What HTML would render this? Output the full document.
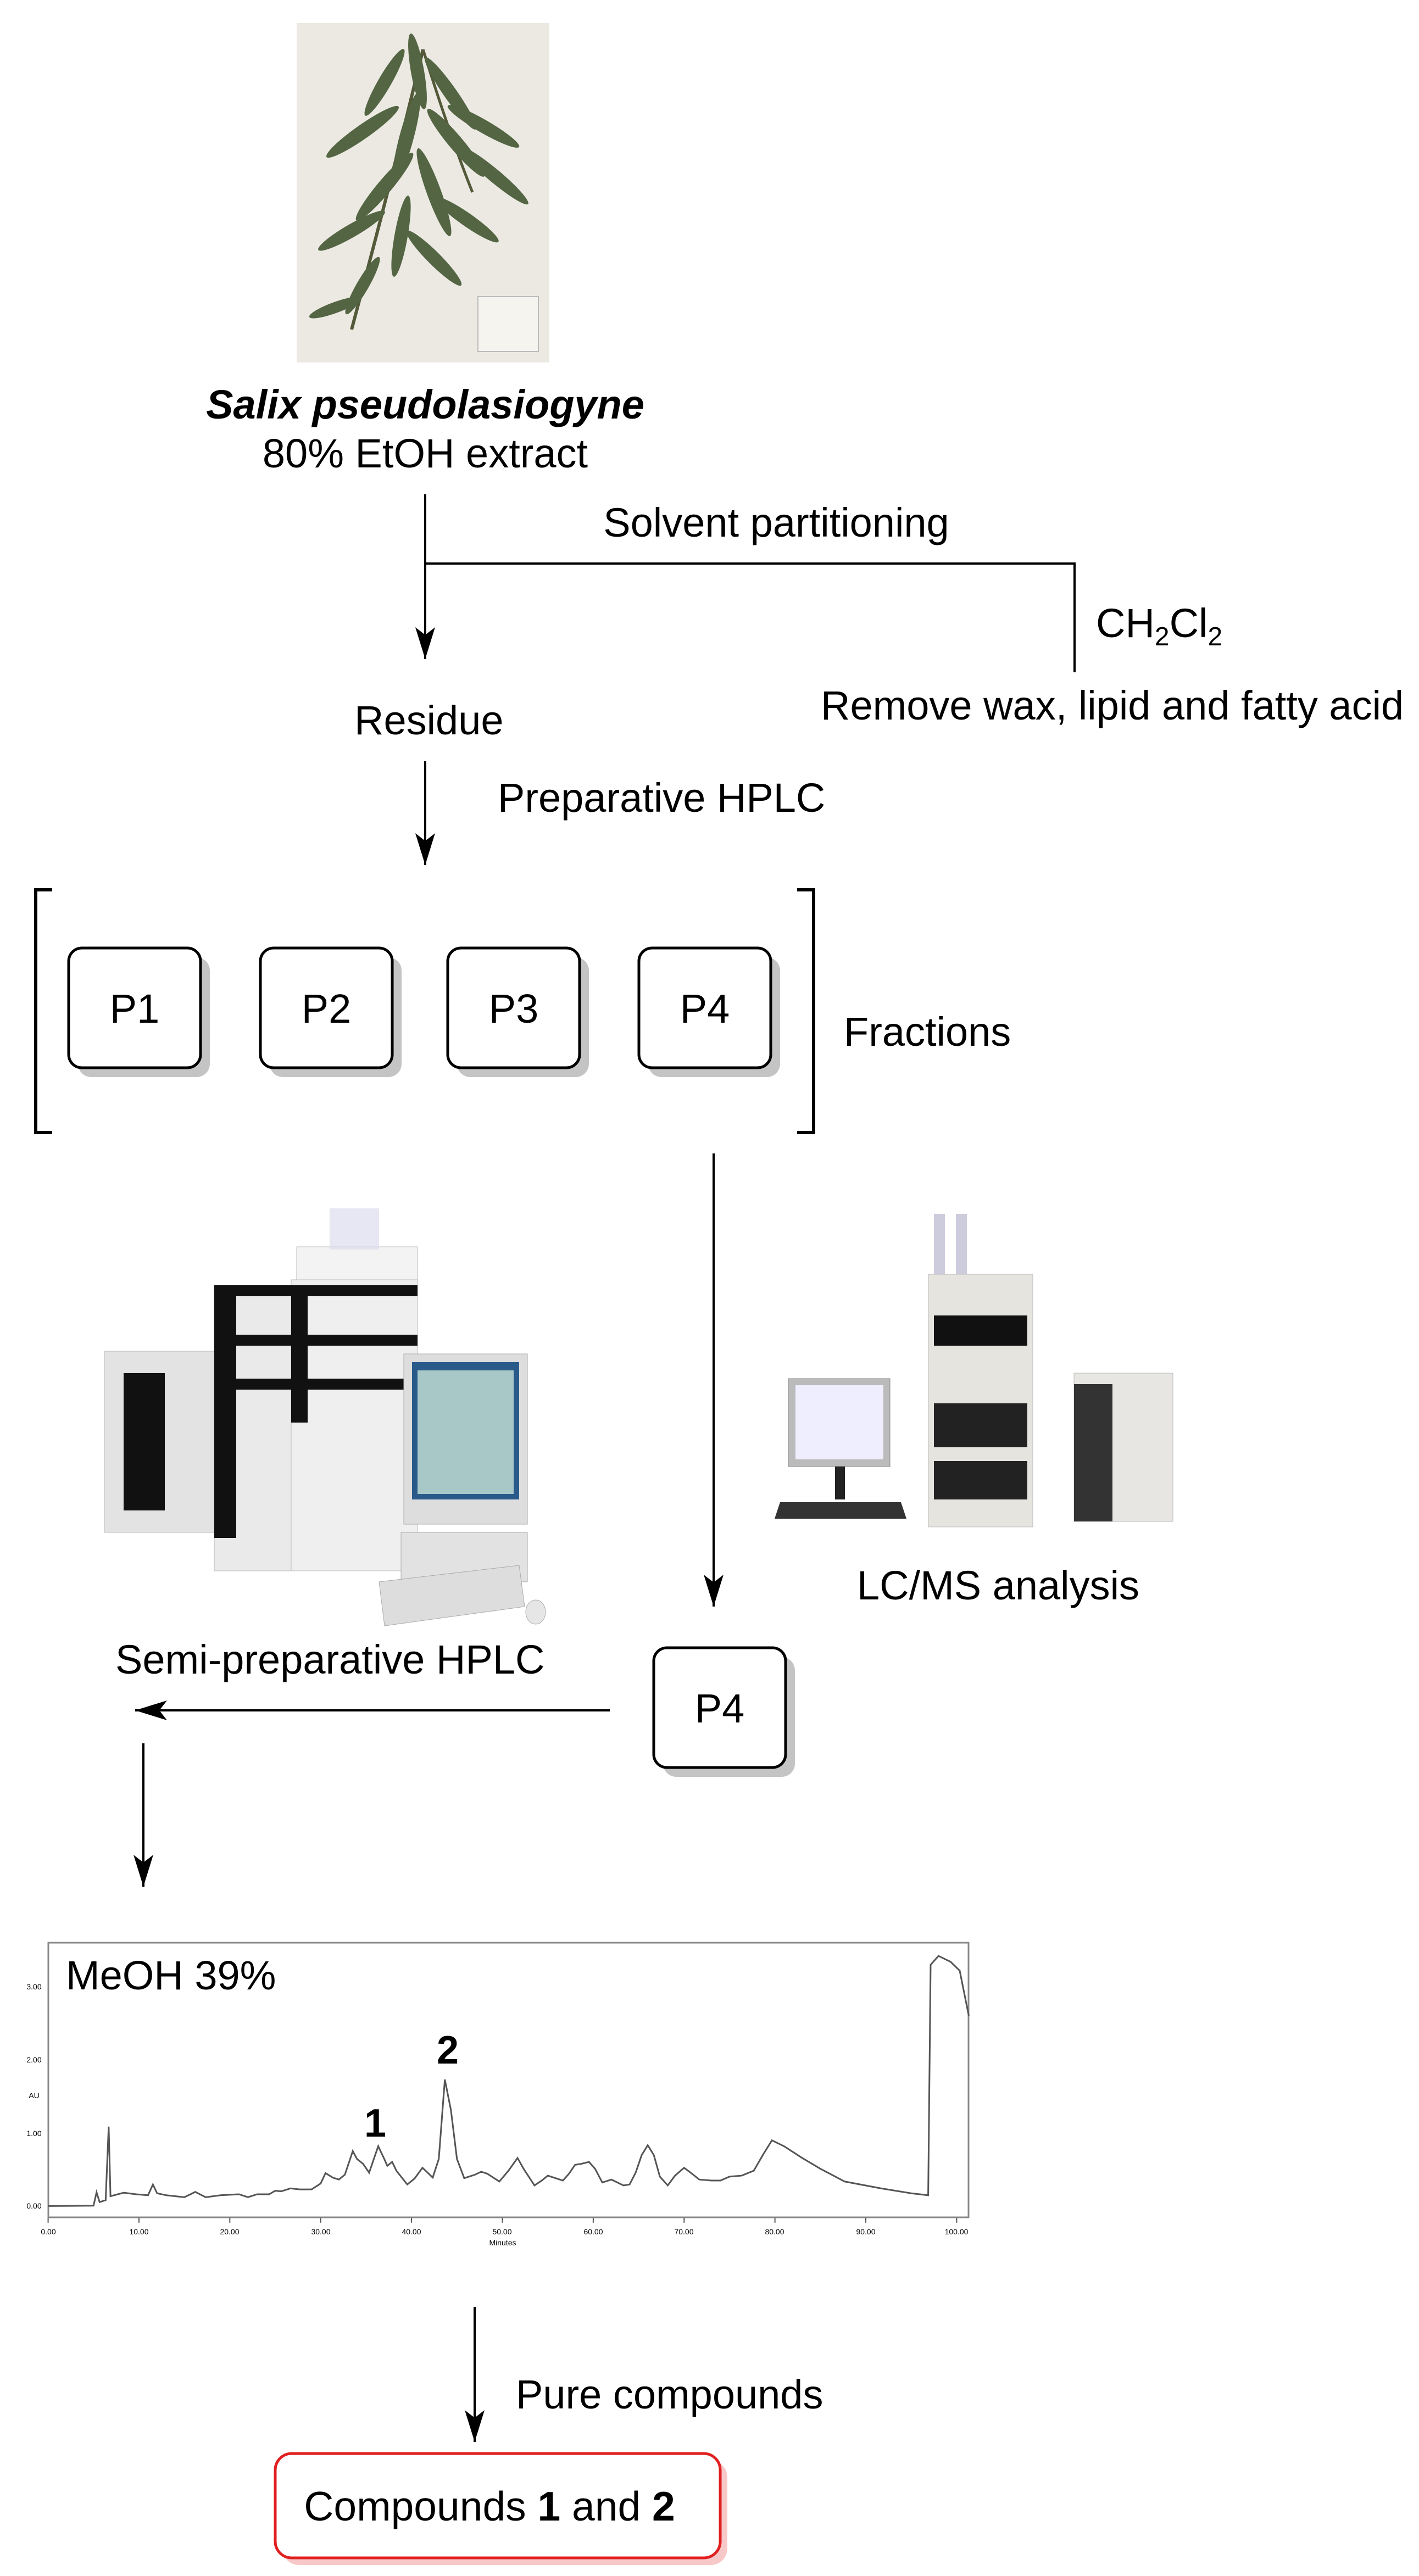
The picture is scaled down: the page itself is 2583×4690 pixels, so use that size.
<!DOCTYPE html>
<html><head><meta charset="utf-8"><style>
html,body{margin:0;padding:0;background:#fff}
svg{display:block}
text{font-family:"Liberation Sans",Arial,sans-serif;fill:#000}
</style></head><body>
<svg width="2583" height="4690" viewBox="0 0 2583 4690" xmlns="http://www.w3.org/2000/svg">
<defs>
<marker id="ah" markerWidth="60" markerHeight="40" refX="58" refY="20" orient="auto" markerUnits="userSpaceOnUse">
<path d="M0,2 L58,20 L0,38 L14,20 Z" fill="#000"/>
</marker>
</defs>
<!-- plant herbarium -->
<rect x="540" y="42" width="460" height="618" fill="#ece9e3"/>
<g fill="#4b5e3a" opacity="0.95">
<path d="M770,90 Q720,300 640,600" stroke="#4b5230" stroke-width="6" fill="none"/>
<path d="M770,90 Q820,250 860,350" stroke="#4b5230" stroke-width="5" fill="none"/>
<ellipse cx="700" cy="150" rx="12" ry="70" transform="rotate(30 700 150)"/>
<ellipse cx="760" cy="130" rx="12" ry="70" transform="rotate(-10 760 130)"/>
<ellipse cx="820" cy="170" rx="12" ry="80" transform="rotate(-35 820 170)"/>
<ellipse cx="660" cy="240" rx="13" ry="80" transform="rotate(55 660 240)"/>
<ellipse cx="740" cy="250" rx="13" ry="85" transform="rotate(15 740 250)"/>
<ellipse cx="830" cy="260" rx="13" ry="80" transform="rotate(-40 830 260)"/>
<ellipse cx="880" cy="230" rx="12" ry="75" transform="rotate(-60 880 230)"/>
<ellipse cx="900" cy="320" rx="12" ry="80" transform="rotate(-50 900 320)"/>
<ellipse cx="700" cy="340" rx="13" ry="80" transform="rotate(40 700 340)"/>
<ellipse cx="790" cy="350" rx="13" ry="85" transform="rotate(-20 790 350)"/>
<ellipse cx="850" cy="400" rx="12" ry="70" transform="rotate(-55 850 400)"/>
<ellipse cx="640" cy="420" rx="12" ry="70" transform="rotate(60 640 420)"/>
<ellipse cx="730" cy="430" rx="12" ry="75" transform="rotate(10 730 430)"/>
<ellipse cx="790" cy="470" rx="12" ry="70" transform="rotate(-45 790 470)"/>
<ellipse cx="660" cy="520" rx="11" ry="60" transform="rotate(30 660 520)"/>
<ellipse cx="610" cy="560" rx="10" ry="50" transform="rotate(70 610 560)"/>
</g>
<rect x="870" y="540" width="110" height="100" fill="#f6f4ef" stroke="#bbb" stroke-width="2"/>

<text x="774" y="762" font-size="74" font-weight="bold" font-style="italic" text-anchor="middle">Salix pseudolasiogyne</text>
<text x="774" y="851" font-size="74" text-anchor="middle">80% EtOH extract</text>
<text x="1413" y="977" font-size="74" text-anchor="middle">Solvent partitioning</text>
<text x="1995" y="1160" font-size="74">CH<tspan font-size="48" dy="15">2</tspan><tspan dy="-15">Cl</tspan><tspan font-size="48" dy="15">2</tspan></text>
<text x="1494" y="1310" font-size="74">Remove wax, lipid and fatty acid</text>
<text x="645" y="1337" font-size="74">Residue</text>
<text x="906" y="1478" font-size="74">Preparative HPLC</text>
<text x="1536" y="1904" font-size="74">Fractions</text>

<g stroke="#000" stroke-width="4" fill="none">
<line x1="774" y1="900" x2="774" y2="1200" marker-end="url(#ah)"/>
<polyline points="774,1026 1956,1026 1956,1224"/>
<line x1="774" y1="1386" x2="774" y2="1575" marker-end="url(#ah)"/>
<polyline points="95,1620 65,1620 65,2062 95,2062" stroke-width="6"/>
<polyline points="1451,1620 1481,1620 1481,2062 1451,2062" stroke-width="6"/>
<line x1="1299" y1="2100" x2="1299" y2="2925" marker-end="url(#ah)"/>
<line x1="1110" y1="3114" x2="246" y2="3114" marker-end="url(#ah)"/>
<line x1="261" y1="3174" x2="261" y2="3435" marker-end="url(#ah)"/>
<line x1="864" y1="4200" x2="864" y2="4446" marker-end="url(#ah)"/>
</g>

<!-- fraction boxes -->
<g>
<rect x="142" y="1743" width="240" height="218" rx="24" fill="#c4c4c4"/>
<rect x="125" y="1726" width="240" height="218" rx="24" fill="#fff" stroke="#000" stroke-width="5"/>
<rect x="491" y="1743" width="240" height="218" rx="24" fill="#c4c4c4"/>
<rect x="474" y="1726" width="240" height="218" rx="24" fill="#fff" stroke="#000" stroke-width="5"/>
<rect x="832" y="1743" width="240" height="218" rx="24" fill="#c4c4c4"/>
<rect x="815" y="1726" width="240" height="218" rx="24" fill="#fff" stroke="#000" stroke-width="5"/>
<rect x="1180" y="1743" width="240" height="218" rx="24" fill="#c4c4c4"/>
<rect x="1163" y="1726" width="240" height="218" rx="24" fill="#fff" stroke="#000" stroke-width="5"/>
<text x="245" y="1862" font-size="74" text-anchor="middle">P1</text>
<text x="594" y="1862" font-size="74" text-anchor="middle">P2</text>
<text x="935" y="1862" font-size="74" text-anchor="middle">P3</text>
<text x="1283" y="1862" font-size="74" text-anchor="middle">P4</text>
<rect x="1207" y="3017" width="240" height="218" rx="24" fill="#c4c4c4"/>
<rect x="1190" y="3000" width="240" height="218" rx="24" fill="#fff" stroke="#000" stroke-width="5"/>
<text x="1310" y="3136" font-size="74" text-anchor="middle">P4</text>
</g>

<!-- left HPLC instrument -->
<g>
<rect x="190" y="2460" width="200" height="330" fill="#e3e3e3" stroke="#bbb"/>
<rect x="225" y="2500" width="75" height="250" fill="#111"/>
<rect x="390" y="2340" width="180" height="520" fill="#eaeaea" stroke="#bbb"/>
<rect x="530" y="2330" width="230" height="530" fill="#efefef" stroke="#bbb"/>
<rect x="390" y="2340" width="40" height="460" fill="#111"/>
<rect x="390" y="2340" width="370" height="20" fill="#111"/>
<rect x="390" y="2430" width="370" height="20" fill="#111"/>
<rect x="390" y="2510" width="370" height="20" fill="#111"/>
<rect x="530" y="2340" width="30" height="250" fill="#111"/>
<rect x="540" y="2270" width="220" height="60" fill="#f3f3f3" stroke="#bbb"/>
<rect x="600" y="2200" width="90" height="75" fill="#dde" opacity="0.7"/>
<rect x="735" y="2465" width="225" height="310" fill="#ddd" stroke="#aaa"/>
<rect x="750" y="2480" width="195" height="250" fill="#2a5a8a"/>
<rect x="760" y="2495" width="175" height="225" fill="#a8c8c8"/>
<rect x="730" y="2790" width="230" height="90" fill="#e2e2e2" stroke="#aaa"/>
<path d="M690,2880 L945,2850 L955,2925 L700,2960 Z" fill="#ddd" stroke="#aaa"/>
<ellipse cx="975" cy="2935" rx="18" ry="22" fill="#e6e6e6" stroke="#aaa"/>
</g>
<!-- right LC/MS instrument -->
<g>
<rect x="1700" y="2210" width="20" height="110" fill="#ccd"/>
<rect x="1740" y="2210" width="20" height="110" fill="#ccd"/>
<rect x="1690" y="2320" width="190" height="460" fill="#e6e4df" stroke="#bbb"/>
<rect x="1700" y="2395" width="170" height="55" fill="#111"/>
<rect x="1700" y="2555" width="170" height="80" fill="#222"/>
<rect x="1700" y="2660" width="170" height="70" fill="#222"/>
<rect x="1955" y="2500" width="180" height="270" fill="#e8e6e2" stroke="#bbb"/>
<rect x="1955" y="2520" width="70" height="250" fill="#333"/>
<rect x="1435" y="2510" width="185" height="160" fill="#bbb" stroke="#888"/>
<rect x="1448" y="2522" width="160" height="135" fill="#eef"/>
<rect x="1520" y="2670" width="18" height="60" fill="#222"/>
<path d="M1420,2735 L1640,2735 L1650,2765 L1410,2765 Z" fill="#333"/>
</g>
<text x="1560" y="2912" font-size="74">LC/MS analysis</text>
<text x="210" y="3047" font-size="74">Semi-preparative HPLC</text>

<!-- chromatogram -->
<rect x="88" y="3537" width="1675" height="500" fill="none" stroke="#888" stroke-width="3"/>
<svg x="60" y="3520" width="1720" height="560" viewBox="0 0 1560 1568" preserveAspectRatio="none" overflow="visible">
<polyline fill="none" stroke="#555" stroke-width="3" vector-effect="non-scaling-stroke" points="25,1390 100,1388 105,1320 110,1370 120,1360 125,985 128,1340 140,1330 150,1322 170,1330 190,1335 198,1280 205,1325 220,1335 250,1345 268,1318 285,1345 310,1335 340,1330 355,1345 370,1330 390,1330 400,1312 410,1315 425,1300 440,1305 460,1305 475,1275 483,1222 495,1245 505,1255 515,1230 528,1110 535,1150 545,1175 555,1220 570,1085 580,1150 585,1185 593,1165 600,1210 618,1280 630,1250 643,1195 650,1215 660,1245 670,1150 680,745 690,900 700,1150 712,1248 730,1230 740,1215 750,1225 770,1265 785,1210 800,1145 810,1200 828,1285 840,1260 850,1235 860,1245 875,1260 885,1225 895,1180 905,1175 918,1165 928,1200 940,1270 955,1255 975,1285 985,1280 995,1220 1005,1130 1015,1080 1025,1130 1035,1240 1048,1285 1060,1235 1075,1195 1088,1225 1100,1255 1120,1260 1135,1260 1150,1240 1170,1235 1190,1210 1205,1130 1220,1055 1240,1085 1270,1145 1300,1200 1340,1265 1400,1300 1450,1325 1478,1335 1482,160 1495,115 1505,130 1515,145 1530,190 1545,420"/>
<g stroke="#555" stroke-width="2">
<line x1="25" y1="1450" x2="25" y2="1475" vector-effect="non-scaling-stroke"/>
<line x1="175" y1="1450" x2="175" y2="1475" vector-effect="non-scaling-stroke"/>
<line x1="325" y1="1450" x2="325" y2="1475" vector-effect="non-scaling-stroke"/>
<line x1="475" y1="1450" x2="475" y2="1475" vector-effect="non-scaling-stroke"/>
<line x1="625" y1="1450" x2="625" y2="1475" vector-effect="non-scaling-stroke"/>
<line x1="775" y1="1450" x2="775" y2="1475" vector-effect="non-scaling-stroke"/>
<line x1="925" y1="1450" x2="925" y2="1475" vector-effect="non-scaling-stroke"/>
<line x1="1075" y1="1450" x2="1075" y2="1475" vector-effect="non-scaling-stroke"/>
<line x1="1225" y1="1450" x2="1225" y2="1475" vector-effect="non-scaling-stroke"/>
<line x1="1375" y1="1450" x2="1375" y2="1475" vector-effect="non-scaling-stroke"/>
<line x1="1525" y1="1450" x2="1525" y2="1475" vector-effect="non-scaling-stroke"/>
</g>
</svg>
<g font-size="14" text-anchor="middle">
<text x="88" y="4068" fill="#555">0.00</text><text x="253" y="4068" fill="#555">10.00</text><text x="418" y="4068" fill="#555">20.00</text><text x="584" y="4068" fill="#555">30.00</text><text x="749" y="4068" fill="#555">40.00</text><text x="914" y="4068" fill="#555">50.00</text><text x="1080" y="4068" fill="#555">60.00</text><text x="1245" y="4068" fill="#555">70.00</text><text x="1410" y="4068" fill="#555">80.00</text><text x="1576" y="4068" fill="#555">90.00</text><text x="1741" y="4068" fill="#555">100.00</text>
<text x="915" y="4088" fill="#555">Minutes</text>
<text x="62" y="3622" fill="#555">3.00</text><text x="62" y="3755" fill="#555">2.00</text><text x="62" y="3889" fill="#555">1.00</text><text x="62" y="4021" fill="#555">0.00</text>
<text x="62" y="3820" fill="#555">AU</text>
</g>
<text x="120" y="3622" font-size="74">MeOH 39%</text>
<text x="815" y="3757" font-size="72" font-weight="bold" text-anchor="middle">2</text>
<text x="683" y="3890" font-size="72" font-weight="bold" text-anchor="middle">1</text>

<text x="939" y="4385" font-size="74">Pure compounds</text>
<rect x="514" y="4480" width="810" height="190" rx="30" fill="#f7c8c8"/>
<rect x="501" y="4467" width="810" height="190" rx="30" fill="#fff" stroke="#e02020" stroke-width="5"/>
<text x="891" y="4589" font-size="75" text-anchor="middle">Compounds <tspan font-weight="bold">1</tspan> and <tspan font-weight="bold">2</tspan></text>
</svg>
</body></html>
